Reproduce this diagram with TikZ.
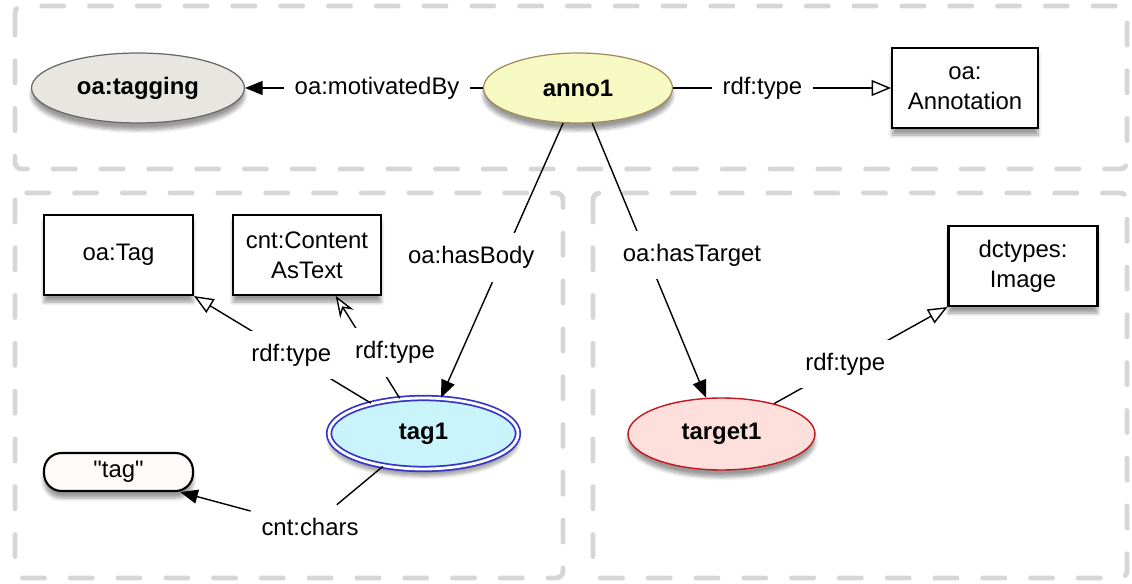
\documentclass[tikz,border=0pt]{standalone}
\usepackage{fontspec}
\setmainfont{Liberation Sans}[Ligatures=TeXOff]
\usetikzlibrary{shapes.geometric,arrows.meta,shadows.blur}
\definecolor{GR}{HTML}{D6D6D6}
\definecolor{TGf}{HTML}{E7E6E1}
\definecolor{TGd}{HTML}{666666}
\definecolor{ANf}{HTML}{F6F9C2}
\definecolor{ANd}{HTML}{A08A5C}
\definecolor{TBf}{HTML}{C9F4FC}
\definecolor{TBd}{HTML}{3535C8}
\definecolor{TRf}{HTML}{FDE0DC}
\definecolor{TRd}{HTML}{C4161C}
\definecolor{LTf}{HTML}{FFFBFB}

\begin{document}
\begin{tikzpicture}[x=0.02cm,y=-0.02cm,
    font=\fontsize{13.6}{17}\selectfont,
    group/.style={draw=GR, line width=2.8pt, dash pattern=on 12.5pt off 14.7pt,
                  line cap=round, rounded corners=4pt},
    shade/.style={blur shadow={shadow xshift=0pt, shadow yshift=-4pt,
                  shadow opacity=40, shadow blur steps=6}},
    res/.style={ellipse, inner sep=0pt, shade,
                font=\fontsize{13.6}{17}\selectfont\bfseries},
    cls/.style={draw, line width=1.2pt, fill=white, align=center, shade,
                minimum width=2.98cm, minimum height=1.6cm, inner sep=0pt},
    lbl/.style={fill=white, inner xsep=6pt, inner ysep=7.5pt},
    rel/.style={line width=0.8pt, -{Triangle[length=10pt,width=8pt]}},
    isa/.style={line width=0.8pt, -{Triangle[open,length=11pt,width=9pt,fill=white]}}
  ]
  \useasboundingbox (0,0) rectangle (1132,584);

  \draw[group] (15,6) rectangle (1127,169);
  \draw[group] (15,193) rectangle (563,578);
  \draw[group] (593,193) rectangle (1127,578);

  \node[res, draw=TGd, fill=TGf, line width=0.7pt,
        minimum width=4.26cm, minimum height=1.4cm] (tagging) at (138,88) {oa:tagging};
  \node[res, draw=ANd, fill=ANf, line width=0.7pt,
        minimum width=3.78cm, minimum height=1.4cm] (anno1) at (578,88) {anno1};
  \node[cls, minimum width=2.92cm] (annot) at (965,88) {oa:\\Annotation};

  \node[cls] (oatag) at (118.5,255) {oa:Tag};
  \node[cls, minimum width=2.96cm] (cntText) at (307,255) {cnt:Content\\AsText};
  \node[cls, fill=LTf, rounded corners=10pt, minimum height=0.76cm] (taglit) at (118.5,472) {"tag"};
  \node[res, draw=TBd, fill=TBf, line width=1pt, double=white, double distance=1.6pt,
        minimum width=3.78cm, minimum height=1.42cm] (tag1) at (423.5,433.5) {tag1};

  \node[res, draw=TRd, fill=TRf, line width=0.8pt,
        minimum width=3.74cm, minimum height=1.44cm] (target1) at (721.5,434) {target1};
  \node[cls] (dcimg) at (1023,266) {dctypes:\\Image};

  \draw[rel] (anno1.west) -- node[lbl, pos=0.445] {oa:motivatedBy} (tagging.east);
  \draw[isa] (anno1.east) -- node[lbl, pos=0.41] {rdf:type} (annot.west);
  \draw[rel] (anno1.-113) -- node[lbl, pos=0.49, xshift=-0.64cm] {oa:hasBody} (tag1.64);
  \draw[rel] (anno1.-68) -- node[lbl, pos=0.48, xshift=0.9cm] {oa:hasTarget} (target1.113);

  \draw[isa] (tag1.150) -- node[lbl, pos=0.45] {rdf:type} (oatag.south east);
  \draw[line width=0.8pt, -{Stealth[open,length=12pt,width=9pt,inset=4pt,fill=white]}]
    (tag1.124) -- node[lbl, pos=0.45, xshift=0.48cm] {rdf:type} (cntText.-55);
  \node[lbl] (chars) at (310,527) {cnt:chars};
  \draw[line width=0.8pt] (tag1.219) -- (chars);
  \draw[rel] (chars) -- (taglit.-18);

  \draw[isa] (target1.30) -- node[lbl, pos=0.41] {rdf:type} (dcimg.south west);
\end{tikzpicture}
\end{document}
